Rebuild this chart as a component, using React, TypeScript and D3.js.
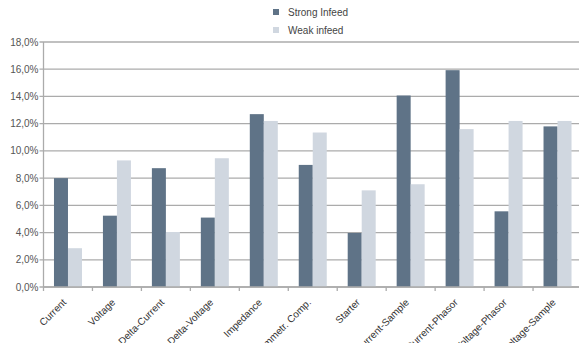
import React from "react";
import * as d3 from "d3";

const categories = ["Current", "Voltage", "Delta-Current", "Delta-Voltage", "Impedance", "Symmetr. Comp.", "Starter", "Current-Sample", "Current-Phasor", "Voltage-Phasor", "Voltage-Sample"];
const strongInfeed = [8.0, 5.24, 8.73, 5.1, 12.7, 8.97, 3.97, 14.07, 15.93, 5.56, 11.8];
const weakInfeed = [2.85, 9.3, 4.04, 9.46, 12.2, 11.35, 7.1, 7.55, 11.6, 12.2, 12.2];
const yTicks = [0, 2, 4, 6, 8, 10, 12, 14, 16, 18];
const seriesNames = ["Strong Infeed", "Weak infeed"];
const colors = ["#5f7387", "#d0d7e0"];

export default function App() {
  const W = 579, H = 343;
  const left = 43.5, right = 582, top = 42, bottom = 287;
  const x = d3.scaleBand<string>().domain(categories).range([left, right]);
  const y = d3.scaleLinear().domain([0, 18]).range([bottom, top]);
  const bw = 14;
  const bandW = x.bandwidth();
  const groupOff = (bandW - 2 * bw) / 2;
  const grid = "#ababab";
  return (
    <svg width={W} height={H} style={{ position: "absolute", left: 0, top: 0, fontFamily: "Liberation Sans, Arial, sans-serif" }}>
      <rect width={W} height={H} fill="#fff" />
      {yTicks.map((t) => (
        <g key={t}>
          <line x1={left - 4} x2={W} y1={y(t)} y2={y(t)} stroke={grid} strokeWidth={1.3} />
          <text x={left - 5} y={y(t) + 3.5} fontSize={10} textAnchor="end" fill="#555">
            {t.toFixed(1).replace(".", ",") + "%"}
          </text>
        </g>
      ))}
      <line x1={left} x2={left} y1={top} y2={bottom + 4} stroke={grid} strokeWidth={1.3} />
      {categories.map((c, i) => (
        <g key={c}>
          <rect x={(x(c) as number) + groupOff} y={y(strongInfeed[i])} width={bw} height={bottom - y(strongInfeed[i])} fill={colors[0]} />
          <rect x={(x(c) as number) + groupOff + bw} y={y(weakInfeed[i])} width={bw} height={bottom - y(weakInfeed[i])} fill={colors[1]} />
          <line x1={(x(c) as number) + bandW} x2={(x(c) as number) + bandW} y1={bottom} y2={bottom + 4} stroke={grid} strokeWidth={1.3} />
          <text
            transform={`translate(${(x(c) as number) + bandW / 2 - 1},${bottom + 16}) rotate(-45)`}
            fontSize={10}
            textAnchor="end"
            fill="#333"
          >
            {c}
          </text>
        </g>
      ))}
      <line x1={left} x2={W} y1={bottom} y2={bottom} stroke={grid} strokeWidth={1.3} />
      {seriesNames.map((s, i) => (
        <g key={s}>
          <rect x={273} y={9 + i * 18} width={6} height={6} fill={colors[i]} />
          <text x={288} y={16 + i * 18} fontSize={10} fill="#444">{s}</text>
        </g>
      ))}
    </svg>
  );
}
